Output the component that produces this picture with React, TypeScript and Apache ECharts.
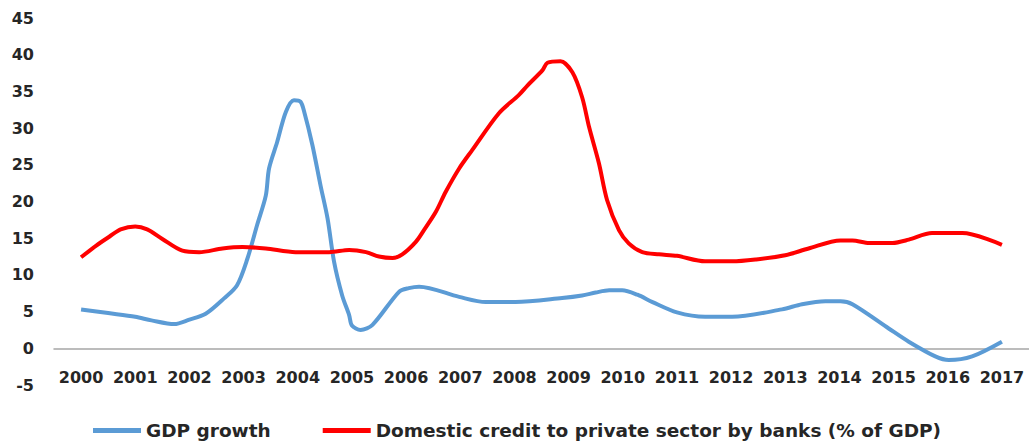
import React, { useEffect, useRef } from "react";
import * as echarts from "echarts";

const yearLabels = [2000, 2001, 2002, 2003, 2004, 2005, 2006, 2007, 2008, 2009, 2010, 2011, 2012, 2013, 2014, 2015, 2016, 2017];

const gdpYears = [2000, 2000.5, 2001, 2001.3, 2001.72, 2002.0, 2002.3, 2002.64, 2002.88, 2003.07, 2003.25, 2003.41, 2003.47, 2003.62, 2003.78, 2003.93, 2004.05, 2004.12, 2004.27, 2004.42, 2004.55, 2004.67, 2004.82, 2004.95, 2005.0, 2005.16, 2005.38, 2005.87, 2006.05, 2006.24, 2006.98, 2007.47, 2008.02, 2008.88, 2009.25, 2009.5, 2009.75, 2009.99, 2010.27, 2010.55, 2011.0, 2011.52, 2012.02, 2012.94, 2013.31, 2013.74, 2014.02, 2014.24, 2014.91, 2015.28, 2015.77, 2016.02, 2016.45, 2017];
const gdpValues = [5.3, 4.8, 4.3, 3.8, 3.3, 3.9, 4.7, 6.8, 8.6, 12.2, 16.8, 20.8, 24.5, 28.1, 32.2, 33.8, 33.6, 32.2, 27.7, 22.2, 17.7, 11.8, 7.2, 4.5, 3.1, 2.5, 3.2, 7.7, 8.2, 8.4, 7.0, 6.3, 6.3, 6.85, 7.2, 7.6, 7.9, 7.9, 7.3, 6.3, 4.9, 4.3, 4.3, 5.3, 6.0, 6.4, 6.4, 6.0, 2.7, 0.9, -1.1, -1.6, -1.1, 0.9];

const creditYears = [2000, 2000.28, 2000.52, 2000.73, 2001.0, 2001.22, 2001.5, 2001.87, 2002.18, 2002.61, 2002.98, 2003.41, 2003.96, 2004.58, 2004.95, 2005.26, 2005.5, 2005.75, 2005.93, 2006.18, 2006.33, 2006.55, 2006.73, 2006.98, 2007.22, 2007.71, 2008.08, 2008.24, 2008.52, 2008.61, 2008.85, 2009.07, 2009.25, 2009.38, 2009.56, 2009.71, 2009.93, 2010.11, 2010.36, 2010.67, 2011.0, 2011.52, 2012.02, 2012.45, 2013.0, 2013.43, 2014.02, 2014.24, 2014.55, 2014.98, 2015.28, 2015.71, 2016.27, 2017];
const creditValues = [12.4, 14.0, 15.2, 16.2, 16.6, 16.2, 14.9, 13.3, 13.1, 13.6, 13.8, 13.6, 13.1, 13.1, 13.4, 13.1, 12.5, 12.3, 12.8, 14.5, 16.1, 18.6, 21.3, 24.5, 27.0, 32.0, 34.5, 35.8, 37.9, 38.9, 39.1, 37.6, 34.2, 30.1, 25.2, 20.2, 16.1, 14.3, 13.1, 12.8, 12.6, 11.85, 11.85, 12.1, 12.67, 13.6, 14.7, 14.7, 14.35, 14.35, 14.8, 15.7, 15.7, 14.1];

const gdpName = "GDP growth";
const creditName = "Domestic credit to private sector by banks (% of GDP)";

const FONT = "DejaVu Sans";
const TEXT = "#262626";

export default function App() {
  const ref = useRef<HTMLDivElement>(null);
  useEffect(() => {
    if (!ref.current) return;
    const chart = echarts.init(ref.current, null, { renderer: "svg" });
    chart.setOption({
      animation: false,
      backgroundColor: "#ffffff",
      grid: { left: 54, right: 0, top: 18, bottom: 60, containLabel: false },
      legend: {
        left: 88,
        top: 416,
        icon: "rect",
        itemWidth: 48,
        itemHeight: 5,
        itemGap: 52,
        textStyle: { fontFamily: FONT, fontWeight: "bold", fontSize: 18.5, color: TEXT },
        data: [gdpName, creditName],
      },
      xAxis: {
        type: "value",
        min: 1999.5,
        max: 2017.5,
        splitLine: { show: false },
        axisTick: { show: false },
        axisLine: { show: true, onZero: true, lineStyle: { color: "#A6A6A6", width: 1.5 } },
        axisLabel: {
          customValues: yearLabels,
          formatter: (v: number) => String(Math.round(v)),
          fontFamily: FONT,
          fontWeight: "bold",
          fontSize: 16,
          color: TEXT,
          margin: -16,
        },
      },
      yAxis: {
        type: "value",
        min: -5,
        max: 45,
        interval: 5,
        splitLine: { show: false },
        axisTick: { show: false },
        axisLine: { show: false },
        axisLabel: {
          fontFamily: FONT,
          fontWeight: "bold",
          fontSize: 16,
          color: TEXT,
          margin: 20,
        },
      },
      series: [
        {
          name: gdpName,
          type: "line",
          data: gdpYears.map((y, i) => [y, gdpValues[i]]),
          showSymbol: false,
          smooth: 0.3,
          lineStyle: { color: "#5B9BD5", width: 4 },
          itemStyle: { color: "#5B9BD5" },
        },
        {
          name: creditName,
          type: "line",
          data: creditYears.map((y, i) => [y, creditValues[i]]),
          showSymbol: false,
          smooth: 0.3,
          lineStyle: { color: "#FF0000", width: 4 },
          itemStyle: { color: "#FF0000" },
        },
      ],
    });
    return () => chart.dispose();
  }, []);
  return <div ref={ref} style={{ position: "absolute", left: 0, top: 0, width: 1029, height: 445 }} />;
}
